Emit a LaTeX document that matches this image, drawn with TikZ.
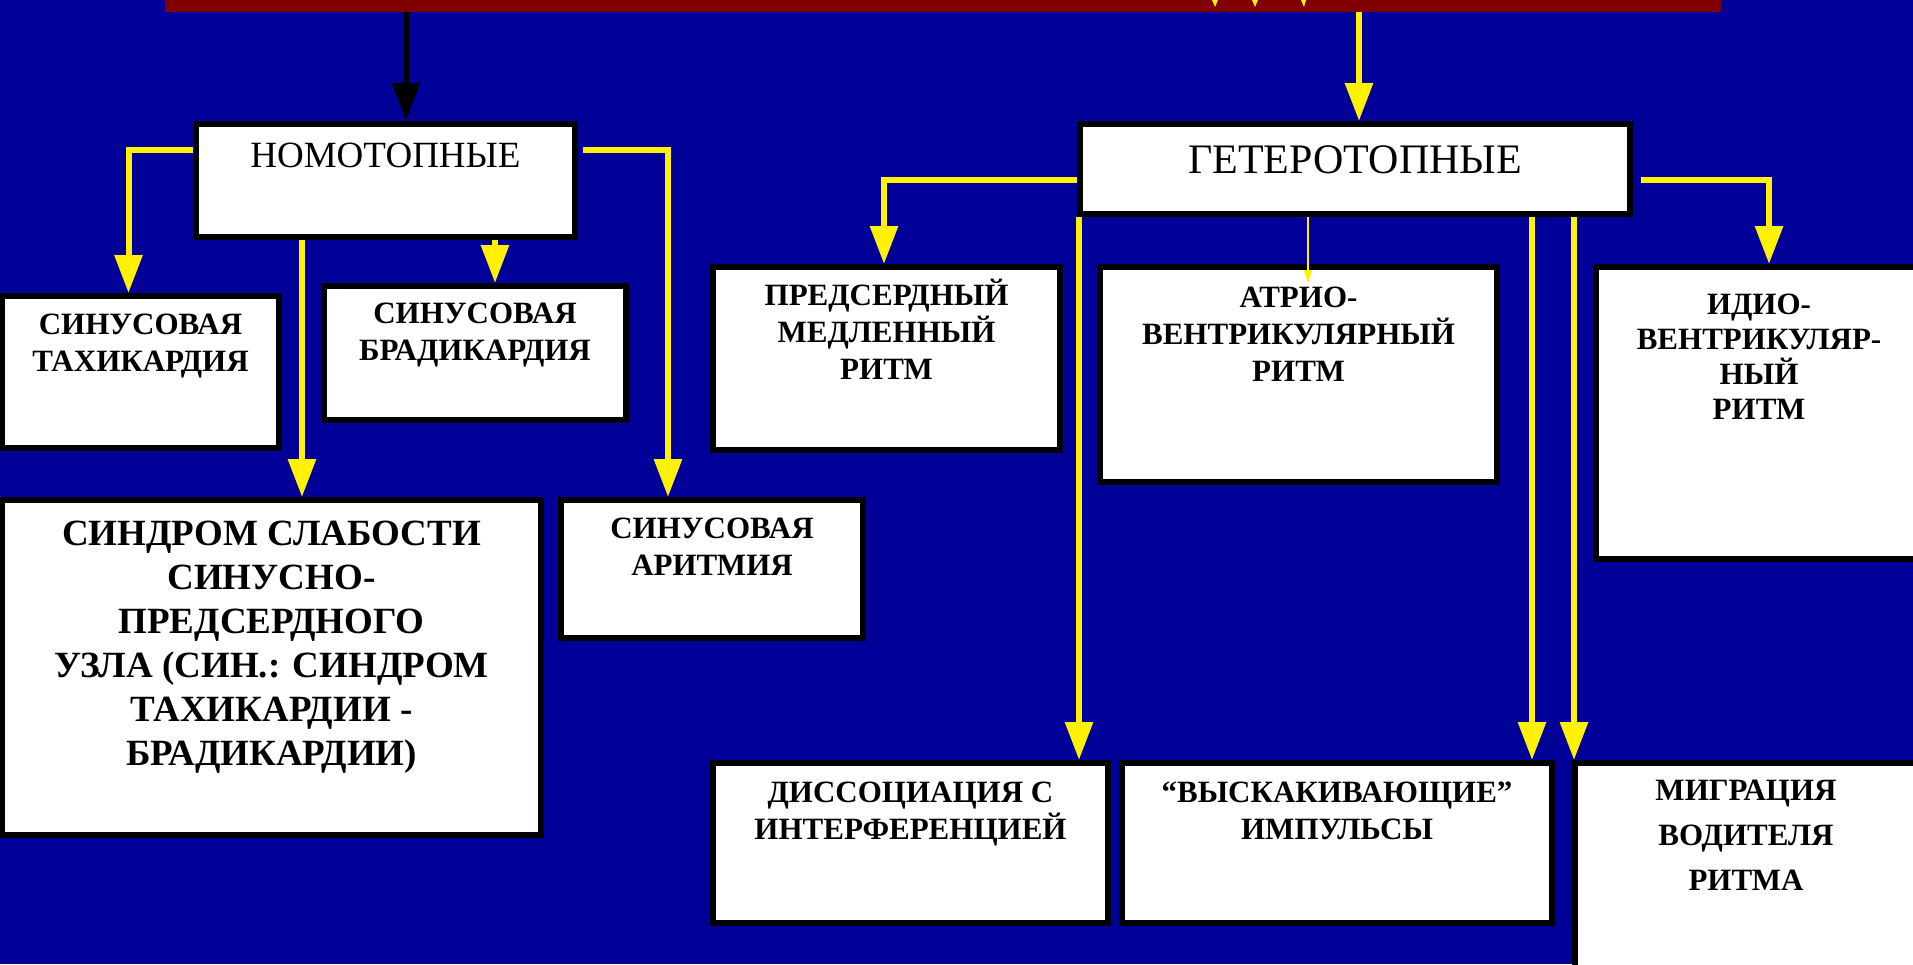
\documentclass[tikz,border=0pt]{standalone}
\usepackage{fontspec}
\setmainfont{Liberation Serif}
\usetikzlibrary{arrows.meta,positioning}

\definecolor{slideblue}{RGB}{0,0,153}
\definecolor{barred}{RGB}{128,0,0}

\begin{document}
\begin{tikzpicture}[x=1pt, y=-1pt, >={Triangle[width=27pt,length=38pt]}, line join=miter]

    \tikzstyle{box}=[draw=black, fill=white, line width=6pt, inner sep=0pt, anchor=north west]
    \tikzstyle{lbl}=[align=center, inner sep=0pt, anchor=base, font=\bfseries\fontsize{31}{37}\selectfont]
    \tikzstyle{head}=[inner sep=0pt, anchor=base]
    \tikzstyle{yel}=[->, draw=yellow, line width=6pt]
    \tikzstyle{thin}=[->, >={Triangle[width=8pt,length=13pt]}, draw=yellow, line width=1.5pt]

    \useasboundingbox (0,0) rectangle (1913,964);
    \clip (0,0) rectangle (1913,964);
    \fill[slideblue] (0,0) rectangle (1913,964);

    % title bar at the top
    \node[fill=barred, inner sep=0pt, minimum width=1556pt, minimum height=12pt, anchor=north west] (bar) at (165,0) {};
    \fill[yellow] (1212,0) -- (1218,0) -- (1215,7) -- cycle
                  (1252,0) -- (1258,0) -- (1255,7) -- cycle
                  (1301,0) -- (1306,0) -- (1304,7) -- cycle;

    \node[box, minimum width=379pt, minimum height=113pt] (nom)     at (193,121)  {};
    \node[box, minimum width=550pt, minimum height=90pt]  (get)     at (1077,121) {};
    \node[box, minimum width=277pt, minimum height=152pt] (tachy)   at (-1,293)   {};
    \node[box, minimum width=302pt, minimum height=134pt] (brady)   at (321,283)  {};
    \node[box, minimum width=539pt, minimum height=335pt] (sindrom) at (-1,497)   {};
    \node[box, minimum width=302pt, minimum height=138pt] (aritm)   at (558,497)  {};
    \node[box, minimum width=347pt, minimum height=183pt] (pred)    at (710,264)  {};
    \node[box, minimum width=397pt, minimum height=215pt] (atrio)   at (1097,264) {};
    \node[box, minimum width=326pt, minimum height=292pt] (idio)    at (1593,264) {};
    \node[box, minimum width=395pt, minimum height=160pt] (dissoc)  at (710,760)  {};
    \node[box, minimum width=430pt, minimum height=160pt] (vysk)    at (1119,760) {};
    \node[box, minimum width=342pt, minimum height=234pt] (migr)    at (1572,760) {};

    \node[head, font=\fontsize{37}{44}\selectfont] (nom-t) [below=46pt of nom.north, anchor=base] {НОМОТОПНЫЕ};
    \node[head, font=\fontsize{42}{50}\selectfont] (get-t) [below=52pt of get.north, anchor=base] {ГЕТЕРОТОПНЫЕ};

    % base = last line, so the distance counts every line
    \node[lbl] (tachy-t) [below=78pt of tachy.north, anchor=base] {СИНУСОВАЯ\\ТАХИКАРДИЯ};
    \node[lbl] (brady-t) [below=77pt of brady.north, anchor=base] {СИНУСОВАЯ\\БРАДИКАРДИЯ};
    \node[lbl, font=\bfseries\fontsize{37}{44}\selectfont] (sindrom-t) [below=268pt of sindrom.north, anchor=base]
        {СИНДРОМ СЛАБОСТИ\\СИНУСНО-\\ПРЕДСЕРДНОГО\\УЗЛА (СИН.: СИНДРОМ\\ТАХИКАРДИИ -\\БРАДИКАРДИИ)};
    \node[lbl] (aritm-t) [below=78pt of aritm.north, anchor=base] {СИНУСОВАЯ\\АРИТМИЯ};
    \node[lbl] (pred-t)  [below=115pt of pred.north, anchor=base]  {ПРЕДСЕРДНЫЙ\\МЕДЛЕННЫЙ\\РИТМ};
    \node[lbl] (atrio-t) [below=117pt of atrio.north, anchor=base] {АТРИО-\\ВЕНТРИКУЛЯРНЫЙ\\РИТМ};
    \node[lbl, font=\bfseries\fontsize{31}{35}\selectfont] (idio-t) [below=155pt of idio.north, anchor=base] {ИДИО-\\ВЕНТРИКУЛЯР-\\НЫЙ\\РИТМ};
    \node[lbl] (dissoc-t) [below=79pt of dissoc.north, anchor=base] {ДИССОЦИАЦИЯ С\\ИНТЕРФЕРЕНЦИЕЙ};
    \node[lbl] (vysk-t)   [below=79pt of vysk.north, anchor=base]   {“ВЫСКАКИВАЮЩИЕ”\\ИМПУЛЬСЫ};
    \node[lbl, font=\bfseries\fontsize{31}{45}\selectfont] (migr-t) [below=130pt of migr.north, anchor=base] {МИГРАЦИЯ\\ВОДИТЕЛЯ\\РИТМА};

    % where the arrows come in
    \coordinate (nom-in)  at ([xshift=20.5]nom.north);
    \coordinate (get-in)  at ([xshift=4]get.north);
    \coordinate (brady-in) at ([xshift=20]brady.north);
    \coordinate (sin-in)  at ([xshift=30.5]sindrom.north);
    \coordinate (atr-in)  at ([xshift=9.5,yshift=-19]atrio.north);
    \coordinate (dis-in)  at ([xshift=168.5]dissoc.north);
    \coordinate (vys-in)  at ([xshift=195]vysk.north);
    \coordinate (mig-in)  at ([xshift=2]migr.north west);

    \draw[->, line width=5pt] (bar.south -| nom-in) -- (nom-in);
    \draw[yel] (bar.south -| get-in) -- (get-in);

    \draw[yel] ([yshift=-29]nom.north west) -| ([xshift=-12]tachy.north);
    \draw[yel] (nom.south -| brady-in) -- (brady-in);
    \draw[yel] (nom.south -| sin-in) -- (sin-in);
    \draw[yel] ([xshift=5,yshift=-29]nom.north east) -| ([xshift=-44]aritm.north);

    \draw[yel] ([yshift=-59]get.north west) -| ([xshift=-2.5]pred.north);
    \draw[yel] ([xshift=8,yshift=-59]get.north east) -| ([xshift=10]idio.north);
    \draw[thin] (get.south -| atr-in) -- (atr-in);
    \draw[yel] (get.south -| dis-in) -- (dis-in);
    \draw[yel] (get.south -| vys-in) -- (vys-in);
    \draw[yel] (get.south -| mig-in) -- (mig-in);

\end{tikzpicture}
\end{document}
